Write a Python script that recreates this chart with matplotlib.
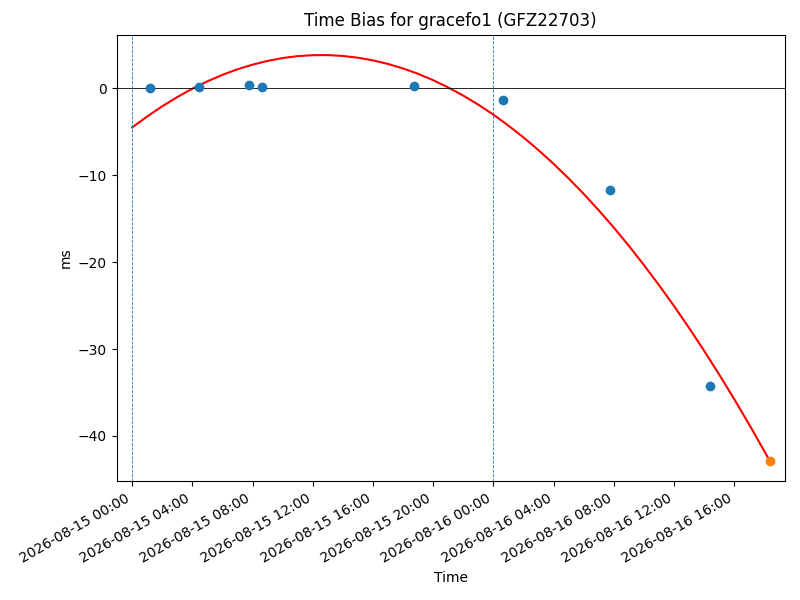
import matplotlib
matplotlib.use("Agg")
import matplotlib.pyplot as plt
import matplotlib.dates as mdates
import pandas as pd

# observed time bias (ms)
obs_times = ["2026-08-15 01:11", "2026-08-15 04:26", "2026-08-15 07:45",
             "2026-08-15 08:37", "2026-08-15 18:43", "2026-08-16 00:37",
             "2026-08-16 07:44", "2026-08-16 14:22"]
obs_bias = [0.0, 0.1, 0.35, 0.1, 0.23, -1.3, -11.72, -34.25]

# predicted point at end of fit
pred_time = ["2026-08-16 18:21"]
pred_bias = [-42.87]

# fitted curve, every hour from 08-15 00:00, plus the end point
fit_start = "2026-08-15 00:00"
fit_end = "2026-08-16 18:21"
fit_bias = [-4.51, -3.24, -2.07, -1.01, -0.05, 0.80, 1.55, 2.19, 2.72, 3.15,
            3.48, 3.70, 3.81, 3.82, 3.72, 3.52, 3.21, 2.80, 2.28, 1.66,
            0.93, 0.09, -0.85, -1.89, -3.04, -4.30, -5.66, -7.13, -8.70,
            -10.38, -12.16, -14.05, -16.04, -18.14, -20.35, -22.66, -25.07,
            -27.59, -30.22, -32.95, -35.79, -38.73, -41.78, -42.87]

day_marks = ["2026-08-15 00:00", "2026-08-16 00:00"]

fit_times = list(pd.date_range(fit_start, periods=len(fit_bias) - 1, freq="h"))
fit_times.append(pd.Timestamp(fit_end))

fig, ax = plt.subplots(figsize=(8, 6), dpi=100)

ax.plot(fit_times, fit_bias, color="red")
ax.scatter(pd.to_datetime(obs_times), obs_bias, color="C0", zorder=3)
ax.scatter(pd.to_datetime(pred_time), pred_bias, color="C1", zorder=3)

ax.axhline(0, color="black", linewidth=0.6)
for d in day_marks:
    ax.axvline(pd.Timestamp(d), color="C0", linestyle="--", linewidth=0.6)

ax.set_xlim(pd.Timestamp(fit_start) - pd.Timedelta(minutes=61),
            pd.Timestamp("2026-08-16 19:21"))
ax.xaxis.set_major_locator(mdates.HourLocator(byhour=range(0, 24, 4)))
ax.xaxis.set_major_formatter(mdates.DateFormatter("%Y-%m-%d %H:%M"))
fig.autofmt_xdate()

ax.set_title("Time Bias for gracefo1 (GFZ22703)")
ax.set_xlabel("Time")
ax.set_ylabel("ms")

fig.subplots_adjust(left=0.146, right=0.981, top=0.942, bottom=0.198)
fig.savefig("out.png", dpi=100)
plt.close(fig)
